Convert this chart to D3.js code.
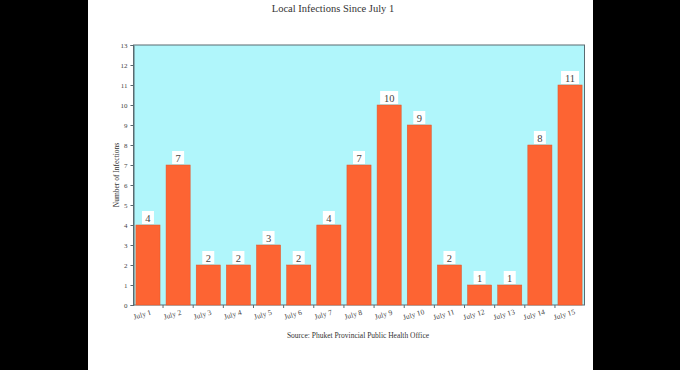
<!DOCTYPE html>
<html>
<head>
<meta charset="utf-8">
<script src="https://cdn.jsdelivr.net/npm/d3@7"></script>
<style>
  html, body { margin: 0; padding: 0; background: #000; }
  svg { display: block; }
</style>
</head>
<body>
<svg id="chart" width="680" height="370"></svg>
<script>
// --- data ---
const days = ["July 1", "July 2", "July 3", "July 4", "July 5", "July 6", "July 7", "July 8",
  "July 9", "July 10", "July 11", "July 12", "July 13", "July 14", "July 15"];
const infections = [4, 7, 2, 2, 3, 2, 4, 7, 10, 9, 2, 1, 1, 8, 11];
const yTicks = [0, 1, 2, 3, 4, 5, 6, 7, 8, 9, 10, 11, 12, 13];

const svg = d3.select("#chart");
const serif = "'Liberation Serif', 'DejaVu Serif', serif";

// white page between the black side bars
svg.append("rect")
  .attr("x", 88).attr("y", 0)
  .attr("width", 505).attr("height", 370)
  .attr("fill", "#fff");

const margin = { left: 133.5, right: 584.5, top: 45, bottom: 305 };

const x = d3.scaleBand()
  .domain(days)
  .range([margin.left, margin.right])
  .paddingInner(0.2)
  .paddingOuter(0.08);

const y = d3.scaleLinear()
  .domain([0, 13])
  .range([margin.bottom, margin.top]);

// plot background
svg.append("rect")
  .attr("x", margin.left).attr("y", margin.top)
  .attr("width", margin.right - margin.left)
  .attr("height", margin.bottom - margin.top)
  .attr("fill", "#b0f6fb")
  .attr("stroke", "#5a6a70")
  .attr("stroke-width", 1);

// bars
svg.append("g")
  .selectAll("rect")
  .data(infections)
  .join("rect")
  .attr("x", (d, i) => x(days[i]))
  .attr("y", d => y(d))
  .attr("width", x.bandwidth())
  .attr("height", d => y(0) - y(d))
  .attr("fill", "#fd6433")
  .attr("stroke", "#e0562a")
  .attr("stroke-width", 0.5);

// value labels in white boxes
const lab = svg.append("g")
  .selectAll("g")
  .data(infections)
  .join("g")
  .attr("transform", (d, i) => `translate(${x(days[i]) + x.bandwidth() / 2},${y(d)})`);

lab.append("rect")
  .attr("x", d => d >= 10 ? -9 : -6)
  .attr("y", -14)
  .attr("width", d => d >= 10 ? 18 : 12)
  .attr("height", 13)
  .attr("fill", "#fff");

lab.append("text")
  .attr("text-anchor", "middle")
  .attr("y", -3.5)
  .attr("font-family", serif)
  .attr("font-size", 10.5)
  .attr("fill", "#444")
  .text(d => d);

// y axis
const yAxis = svg.append("g")
  .attr("transform", `translate(${margin.left},0)`)
  .call(d3.axisLeft(y).tickValues(yTicks).tickSize(3).tickFormat(d3.format("d")));
yAxis.select(".domain").attr("stroke", "#5a6a70");
yAxis.selectAll(".tick line").attr("stroke", "#5a6a70");
yAxis.selectAll("text")
  .attr("font-family", serif)
  .attr("font-size", 7)
  .attr("fill", "#444");

// x axis: ticks at band boundaries, rotated labels
const step = x.step();
const bounds = days.slice(1).map(d => x(d) - (step - x.bandwidth()) / 2);
svg.append("g")
  .selectAll("line")
  .data(bounds)
  .join("line")
  .attr("x1", d => d).attr("x2", d => d)
  .attr("y1", margin.bottom).attr("y2", margin.bottom + 3)
  .attr("stroke", "#5a6a70");

svg.append("g")
  .selectAll("text")
  .data(days)
  .join("text")
  .attr("transform", d => `translate(${x(d) + x.bandwidth() / 2 - 5},${margin.bottom + 12}) rotate(-16)`)
  .attr("text-anchor", "middle")
  .attr("font-family", serif)
  .attr("font-size", 7.5)
  .attr("fill", "#444")
  .text(d => d);

// y axis title
svg.append("text")
  .attr("transform", `translate(119,${(margin.top + margin.bottom) / 2}) rotate(-90)`)
  .attr("text-anchor", "middle")
  .attr("font-family", serif)
  .attr("font-size", 7.5)
  .attr("fill", "#333")
  .text("Number of Infections");

// title
svg.append("text")
  .attr("x", 333).attr("y", 12)
  .attr("text-anchor", "middle")
  .attr("font-family", serif)
  .attr("font-size", 10.5)
  .attr("fill", "#333")
  .text("Local Infections Since July 1");

// source
svg.append("text")
  .attr("x", 358).attr("y", 338)
  .attr("text-anchor", "middle")
  .attr("font-family", serif)
  .attr("font-size", 7.5)
  .attr("fill", "#333")
  .text("Source: Phuket Provincial Public Health Office");
</script>
</body>
</html>
